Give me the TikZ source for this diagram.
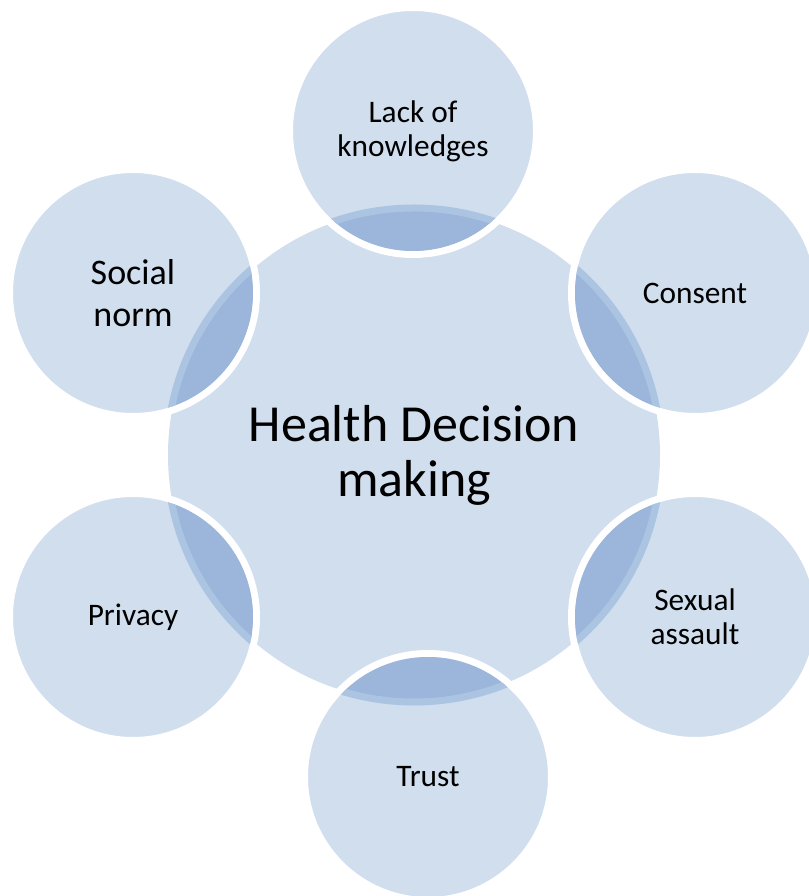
\documentclass[tikz,border=0pt]{standalone}
\usepackage{fontspec}
\setmainfont{Carlito}
\usepackage{xcolor}
\definecolor{hblue}{HTML}{D1DEEE}
\definecolor{hdark}{HTML}{9BB6DA}
\definecolor{hband}{HTML}{ABC4E2}
\tikzset{
	hub/.style = {circle, fill = hblue, minimum size = 369pt, inner sep = 0pt, align = center, font = \fontsize{39}{41.25}\selectfont},
	spoke/.style = {circle, fill = hblue, draw = white, line width = 5.25pt, minimum size = 185.25pt, inner sep = 0pt, align = center, font = \fontsize{23.5}{25.5}\selectfont}
}
\begin{document}
\begin{tikzpicture}[x = 0.75pt, y = 0.75pt]
	\useasboundingbox (0,0) rectangle (808,896);
	% hub
	\node[hub] (hdm) at (414,441) {Health Decision\\making};
	% spokes
	\node[spoke] (lack) at (413,765) {Lack of\\knowledges};
	\node[spoke] (consent) at (695,603) {Consent};
	\node[spoke] (assault) at (695,279) {Sexual\\assault};
	\node[spoke] (trust) at (428,119) {Trust};
	\node[spoke] (privacy) at (133,279) {Privacy};
	\node[spoke, font = \fontsize{27}{31.3}\selectfont] (social) at (133,603) {Social\\norm};
	% overlaps
	\begin{scope} \clip (lack.center) circle (120); \fill[hdark] (hdm.center) circle (247); \draw[hband, line width = 5.25pt] (hdm.center) circle (247); \end{scope}
	\begin{scope} \clip (consent.center) circle (120); \fill[hdark] (hdm.center) circle (247); \draw[hband, line width = 5.25pt] (hdm.center) circle (247); \end{scope}
	\begin{scope} \clip (assault.center) circle (120); \fill[hdark] (hdm.center) circle (247); \draw[hband, line width = 5.25pt] (hdm.center) circle (247); \end{scope}
	\begin{scope} \clip (trust.center) circle (120); \fill[hdark] (hdm.center) circle (247); \draw[hband, line width = 5.25pt] (hdm.center) circle (247); \end{scope}
	\begin{scope} \clip (privacy.center) circle (120); \fill[hdark] (hdm.center) circle (247); \draw[hband, line width = 5.25pt] (hdm.center) circle (247); \end{scope}
	\begin{scope} \clip (social.center) circle (120); \fill[hdark] (hdm.center) circle (247); \draw[hband, line width = 5.25pt] (hdm.center) circle (247); \end{scope}
\end{tikzpicture}
\end{document}
